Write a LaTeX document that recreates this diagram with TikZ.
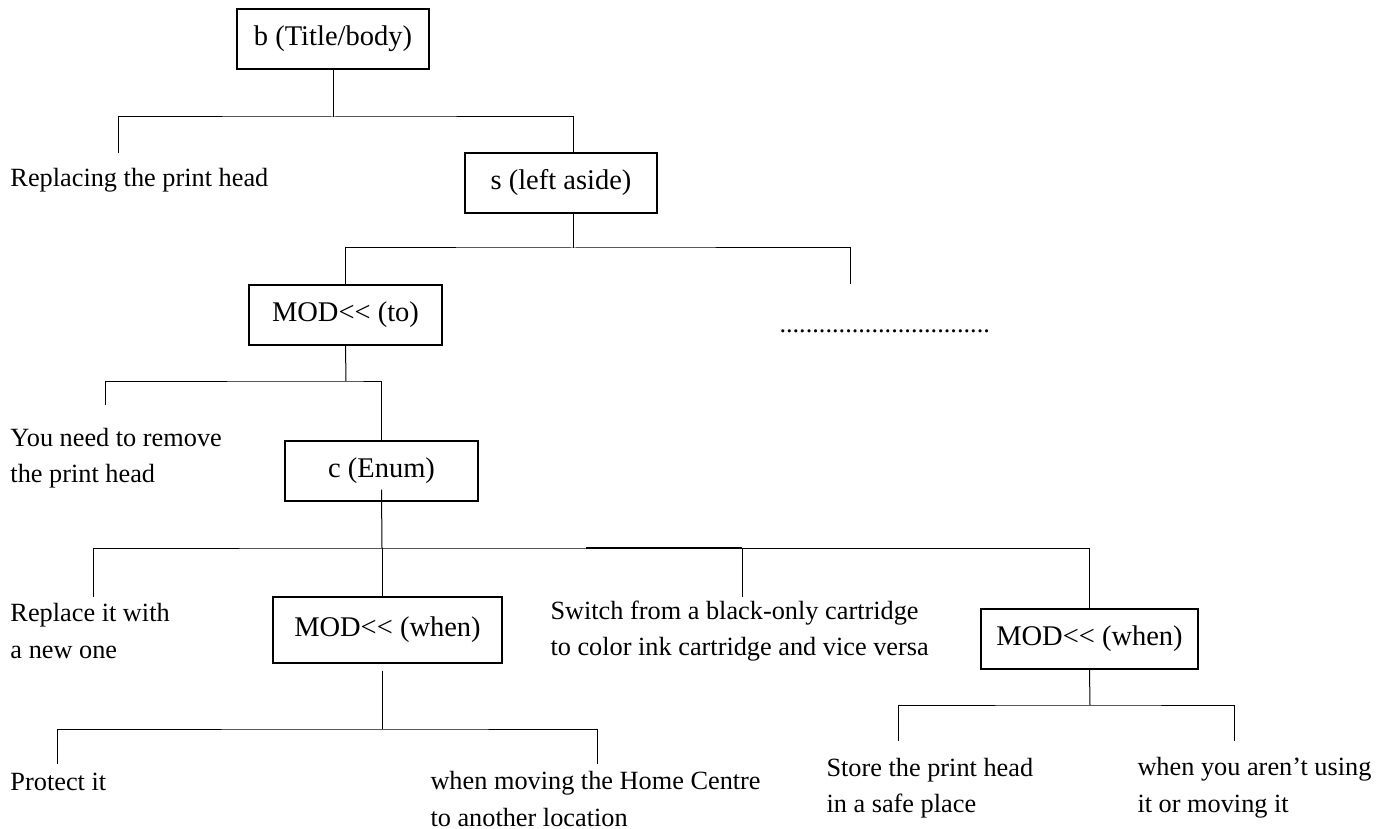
\documentclass[tikz,border=0pt]{standalone}
\usepackage{fontspec}
\setmainfont{Liberation Serif}[Ligatures=TeXOff]
\newcommand{\lblfont}{\fontsize{13.15}{18.3}\selectfont}
\newcommand{\boxfont}{\fontsize{14.25}{17}\selectfont}
\begin{document}
\begin{tikzpicture}[x=0.5pt, y=-0.5pt, line width=0.5pt,
    box/.style={draw, line width=0.6pt, inner sep=0pt, minimum height=30pt, font=\boxfont},
    lbl/.style={anchor=west, inner sep=0pt, align=left, font=\lblfont}]
    \useasboundingbox (0,0) rectangle (1389,829);

    % boxes
    \node[box, minimum width=96pt] (b) at (333,39) {b (Title/body)};
    \node[box, minimum width=96pt] (s) at (561,183) {s (left aside)};
    \node[box, minimum width=96.5pt] (to) at (345.5,315) {MOD<< (to)};
    \node[box, minimum width=96.5pt] (c) at (381.5,471) {c (Enum)};
    \node[box, minimum width=114.5pt, minimum height=33pt] (when) at (387.5,630) {MOD<< (when)};
    \node[box, minimum width=108.5pt] (whentwo) at (1089.5,639) {MOD<< (when)};

    % labels
    \node[lbl] (replacing) at (10,180) {Replacing the print head};
    \node[anchor=base west, inner sep=0pt, font=\lblfont] (more) at (779,333) {................................};
    \node[lbl] (remove) at (10,458) {You need to remove\\the print head};
    \node[lbl] (newone) at (10,631) {Replace it with\\a new one};
    \node[lbl] (switch) at (550,631) {Switch from a black-only cartridge\\to color ink cartridge and vice versa};
    \node[lbl] (protect) at (10,782) {Protect it};
    \node[lbl] (moving) at (430,799) {when moving the Home Centre\\to another location};
    \node[lbl] (store) at (826,788) {Store the print head\\in a safe place};
    \node[lbl] (notusing) at (1137,788) {when you aren’t using\\it or moving it};

    % junctions and free ends
    \coordinate (bj) at (333,117);
    \coordinate (sj) at (573,248);
    \coordinate (toj) at (346,381);
    \coordinate (cj) at (382,548);
    \coordinate (wj) at (382,729);
    \coordinate (wtj) at (1090,705);
    \coordinate (e1) at (118,153);
    \coordinate (e2) at (850,284);
    \coordinate (e3) at (105,405);
    \coordinate (e4) at (93,597);
    \coordinate (e5) at (742,597);
    \coordinate (e6) at (57,764);
    \coordinate (e7) at (597,764);
    \coordinate (e8) at (898,741);
    \coordinate (e9) at (1234,741);
    \coordinate (dk) at (586,548);

    % b
    \draw (b.south) -- (bj);
    \draw (e1) |- (bj) -| (s.north -| sj);
    % s
    \draw (s.south -| sj) -- (sj);
    \draw (to.north) |- (sj) -| (e2);
    % to
    \draw (to.south) -- (toj);
    \draw (e3) |- (toj) -| (c.north);
    % c
    \draw ([yshift=6pt]c.south) -- (cj);
    \draw (e4) |- (cj) -| (whentwo.north);
    \draw (cj) -- (when.north -| cj);
    \draw (e5) -- (e5 |- cj);
    \draw[line width=0.8pt] (dk) -- (e5 |- cj);
    % when
    \draw ([yshift=-3.5pt]when.south -| cj) -- (wj);
    \draw (e6) |- (wj) -| (e7);
    % when (2)
    \draw (whentwo.south) -- (wtj);
    \draw (e8) |- (wtj) -| (e9);
\end{tikzpicture}
\end{document}
